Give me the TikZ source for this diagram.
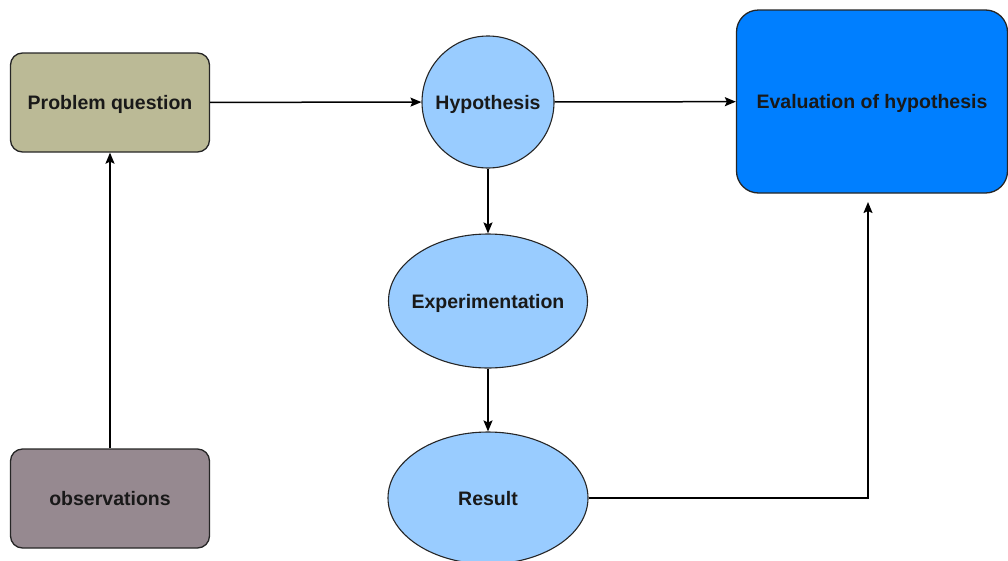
\documentclass[tikz,border=0pt]{standalone}
\usepackage{fontspec}
\setmainfont{Liberation Sans}
\usetikzlibrary{arrows.meta,shapes.geometric}
\definecolor{probfill}{HTML}{BBBA96}
\definecolor{obsfill}{HTML}{968990}
\definecolor{lightblue}{HTML}{99CCFF}
\definecolor{evalblue}{HTML}{007FFF}
\tikzset{
  lbl/.style={font=\fontsize{19.5}{23}\selectfont\bfseries, text=black!90, text height=14pt, text depth=0pt},
  rbox/.style={draw=black!85, line width=1.3pt, rounded corners=12pt, minimum width=199pt, minimum height=99pt, lbl},
  blob/.style={draw=black!85, line width=1.1pt, fill=lightblue, lbl},
  conn/.style={draw=black, line width=1.5pt, -{Stealth[length=11pt,width=9pt,inset=2pt]}},
}
\newcommand{\zw}[1]{\makebox[0pt][c]{#1}}
\begin{document}
\begin{tikzpicture}[x=1pt,y=-1pt]
\useasboundingbox (0,0) rectangle (1008,560);
\node[rbox, fill=probfill] (prob) at (110,102.5) {Problem question};
\node[rbox, fill=obsfill] (obs) at (110,498.5) {observations};
\node[blob, circle, minimum size=132pt, inner sep=0pt] (hyp) at (488,102) {\zw{Hypothesis}};
\node[blob, ellipse, minimum width=199pt, minimum height=134pt, inner sep=0pt] (exp) at (488,301) {\zw{Experimentation}};
\node[blob, ellipse, minimum width=200pt, minimum height=132pt, inner sep=0pt] (res) at (488,498) {\zw{Result}};
\node[draw=black!85, line width=1.3pt, rounded corners=22pt, fill=evalblue, minimum width=271pt, minimum height=183pt, lbl] (eval) at (872,101.5) {Evaluation of hypothesis};
\coordinate (evin) at (868,202);
\draw[conn] (prob) -- (hyp);
\draw[conn] (hyp) -- (eval);
\draw[conn] (hyp) -- (exp);
\draw[conn] (exp) -- (res);
\draw[conn] (obs) -- (prob);
\draw[conn] (res.east) -| (evin);
\end{tikzpicture}
\end{document}
